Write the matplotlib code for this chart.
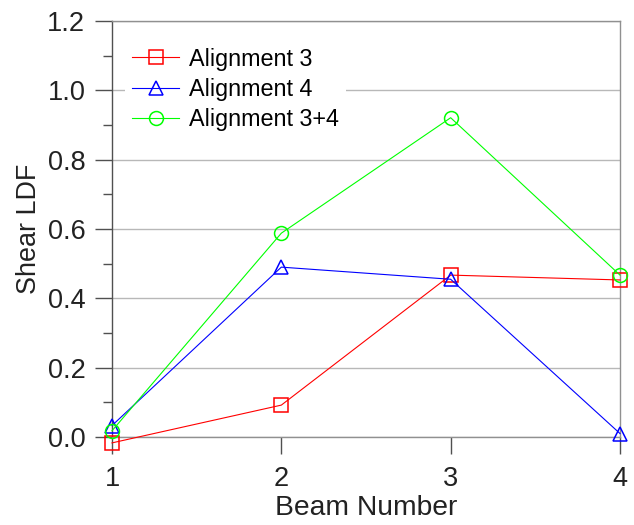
import matplotlib
matplotlib.use("Agg")
import matplotlib.pyplot as plt
from matplotlib.ticker import MultipleLocator

plt.rcParams['font.family'] = ['Liberation Sans', 'DejaVu Sans']

beams = [1, 2, 3, 4]
align3 = [-0.017, 0.092, 0.467, 0.453]
align4 = [0.033, 0.490, 0.455, 0.010]
align34 = [0.018, 0.588, 0.921, 0.467]
labels = ["Alignment 3", "Alignment 4", "Alignment 3+4"]
yticks = [0.0, 0.2, 0.4, 0.6, 0.8, 1.0, 1.2]

fig = plt.figure(figsize=(6.34, 5.25), dpi=100)
ax = fig.add_axes([112/634, 88/525, (620-112)/634, (437-21)/525])

ax.set_xlim(1, 4)
ax.set_ylim(0, 1.2)
ax.set_yticks(yticks)
ax.set_yticklabels([f"{v:.1f}" for v in yticks])
ax.set_xticks(beams)
ax.yaxis.set_minor_locator(MultipleLocator(0.1))
ax.grid(axis='y', which='major', color='#b8b8b8', linewidth=1.0, zorder=0)

styles = [('#ff0000', 's', align3), ('#0000ff', '^', align4), ('#00ff00', 'o', align34)]
for (c, m, ys), lab in zip(styles, labels):
    ax.plot(beams, ys, color=c, marker=m, markerfacecolor='none', markeredgecolor=c,
            markersize=10, markeredgewidth=1.1, linewidth=0.8, label=lab,
            clip_on=False, zorder=3)

for s in ['top', 'right', 'bottom']:
    ax.spines[s].set_color('#909090')
    ax.spines[s].set_linewidth(1.0)
ax.spines['left'].set_color('#505050')
ax.spines['left'].set_linewidth(1.0)

ax.tick_params(axis='both', which='major', direction='out', length=12.2, width=1.0,
               color='#505050', labelsize=19.5, labelcolor='#222222')
ax.tick_params(axis='y', which='major', pad=7)
ax.tick_params(axis='x', which='major', pad=9)
ax.tick_params(axis='y', which='minor', direction='out', length=6.5, width=1.0, color='#505050')

ax.set_xlabel("Beam Number", fontsize=20.3, color='#222222', labelpad=2)
ax.set_ylabel("Shear LDF", fontsize=19.4, color='#222222', labelpad=4)

leg = ax.legend(loc='upper left', bbox_to_anchor=(0.026, 0.953), borderaxespad=0,
                frameon=True, fontsize=16.8, handlelength=2.0, handletextpad=0.43,
                labelspacing=0.32, borderpad=0.3, fancybox=False)
leg.get_frame().set_edgecolor('none')
leg.get_frame().set_facecolor('white')
leg.get_frame().set_alpha(1.0)
leg.set_zorder(5)

fig.savefig("out.png", dpi=100)
